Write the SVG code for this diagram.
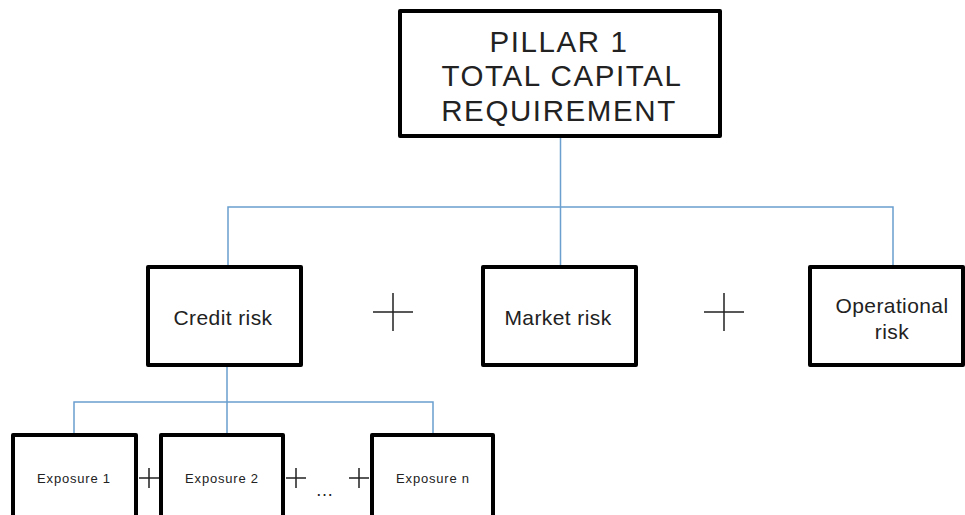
<svg xmlns="http://www.w3.org/2000/svg" width="965" height="515" viewBox="0 0 965 515">
<style>
.box{fill:#fff;stroke:#000;stroke-width:4;stroke-linejoin:round}
.conn{fill:none;stroke:#6a9fd0;stroke-width:1.5}
.plus{stroke:#222;stroke-width:1.5;fill:none}
.t{font-family:"Liberation Sans",Arial,sans-serif;fill:#222;text-anchor:middle}
.big{font-size:29.5px;letter-spacing:1.6px}
.mid{font-size:21px;letter-spacing:0.4px}
.sm{font-size:13px;letter-spacing:0.8px}
</style>
<rect width="965" height="515" fill="#fff"/>
<g id="connectors">
<path class="conn" d="M560.5 137V207M228 266V207H893V266M560.5 207V266"/>
<path class="conn" d="M227 366V402M74 435V402H433V435M227 402V435"/>
</g>
<g id="pillar1">
<rect class="box" x="400" y="11" width="320" height="125"/>
<text class="t big" x="559" y="52">PILLAR 1</text>
<text class="t big" x="562" y="86">TOTAL CAPITAL</text>
<text class="t big" x="559" y="121">REQUIREMENT</text>
</g>
<g id="credit">
<rect class="box" x="148" y="267" width="153" height="98"/>
<text class="t mid" x="223" y="325">Credit risk</text>
</g>
<g id="market">
<rect class="box" x="483" y="267" width="153" height="98"/>
<text class="t mid" x="558" y="325">Market risk</text>
</g>
<g id="operational">
<rect class="box" x="810" y="267" width="153" height="98"/>
<text class="t mid" x="892" y="313">Operational</text>
<text class="t mid" x="892" y="339">risk</text>
</g>
<g id="plus-top">
<path class="plus" d="M373 312H413M393 293V331"/>
<path class="plus" d="M704 312H744M724 293V331"/>
</g>
<g id="exposure1">
<rect class="box" x="13" y="435" width="123" height="100"/>
<text class="t sm" x="74" y="483">Exposure 1</text>
</g>
<g id="exposure2">
<rect class="box" x="161" y="435" width="122" height="100"/>
<text class="t sm" x="222" y="483">Exposure 2</text>
</g>
<g id="exposuren">
<rect class="box" x="372" y="435" width="121" height="100"/>
<text class="t sm" x="433" y="483">Exposure n</text>
</g>
<g id="plus-bottom">
<path class="plus" d="M139 478H159M149 468V488"/>
<path class="plus" d="M286 478H306M296 468V488"/>
<path class="plus" d="M349 478H369M359 468V488"/>
<text class="t" x="325" y="496" font-size="18" letter-spacing="1">…</text>
</g>
</svg>
